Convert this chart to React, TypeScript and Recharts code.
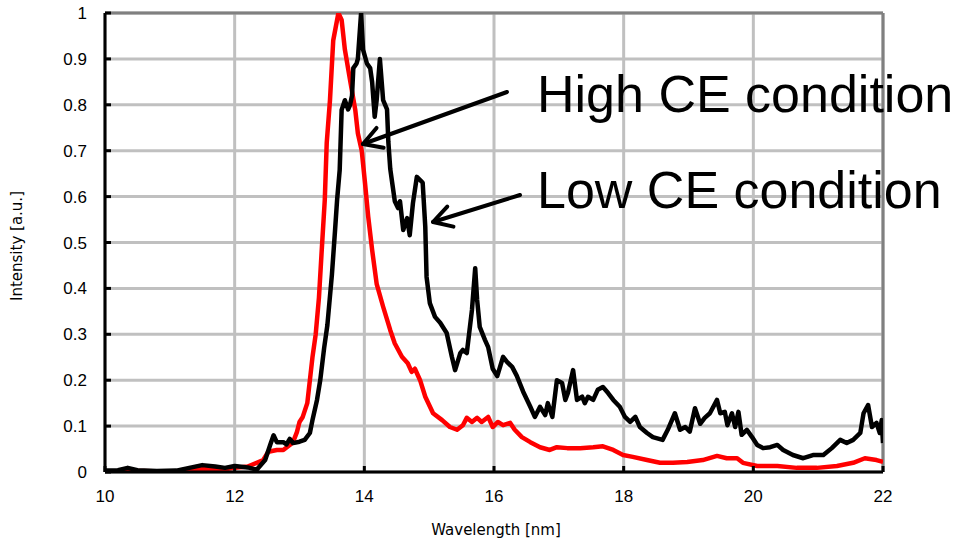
import { LineChart, Line, XAxis, YAxis, CartesianGrid, ReferenceLine } from "recharts"

// wavelength [nm] / intensity [a.u.]
const highWl = [
  10.0, 10.2, 10.35, 10.5, 10.8, 11.1, 11.3, 11.5, 11.7, 11.85, 12.0, 12.2, 12.34, 12.47, 12.55, 12.6,
  12.65, 12.75, 12.8, 12.85, 12.9, 13.0, 13.08, 13.16, 13.2, 13.27, 13.32, 13.38, 13.43, 13.5, 13.55, 13.58,
  13.62, 13.65, 13.7, 13.75, 13.78, 13.81, 13.83, 13.88, 13.9, 13.95, 13.98, 14.04, 14.09, 14.12, 14.16, 14.19,
  14.24, 14.29, 14.35, 14.37, 14.4, 14.43, 14.47, 14.52, 14.55, 14.6, 14.66, 14.7, 14.75, 14.81, 14.86, 14.9,
  14.94, 14.96, 15.01, 15.09, 15.17, 15.27, 15.35, 15.4, 15.48, 15.52, 15.58, 15.66, 15.71, 15.74, 15.78, 15.86,
  15.91, 15.98, 16.05, 16.14, 16.2, 16.28, 16.35, 16.45, 16.56, 16.63, 16.71, 16.79, 16.83, 16.9, 16.97, 17.05,
  17.1, 17.14, 17.22, 17.28, 17.36, 17.4, 17.45, 17.53, 17.6, 17.68, 17.76, 17.84, 17.94, 18.02, 18.1, 18.18,
  18.25, 18.36, 18.45, 18.6, 18.68, 18.79, 18.87, 18.95, 19.02, 19.1, 19.18, 19.25, 19.33, 19.44, 19.49, 19.56,
  19.6, 19.67, 19.72, 19.77, 19.82, 19.9, 19.98, 20.06, 20.15, 20.26, 20.37, 20.46, 20.61, 20.77, 20.92, 21.08,
  21.21, 21.34, 21.44, 21.54, 21.65, 21.7, 21.77, 21.83, 21.9, 21.95, 21.98, 22.0,
]
const highI = [
  0.003, 0.004, 0.009, 0.004, 0.002, 0.003, 0.009, 0.015, 0.012, 0.009, 0.013, 0.01, 0.005, 0.026, 0.06, 0.08,
  0.065, 0.065, 0.06, 0.072, 0.063, 0.066, 0.07, 0.085, 0.113, 0.157, 0.2, 0.27, 0.32, 0.43, 0.53, 0.593,
  0.658, 0.789, 0.81, 0.79, 0.8, 0.82, 0.88, 0.89, 0.9, 1.0, 0.92, 0.89, 0.88, 0.85, 0.774, 0.81,
  0.9, 0.81, 0.79, 0.72, 0.66, 0.63, 0.59, 0.575, 0.59, 0.527, 0.553, 0.516, 0.586, 0.643, 0.636, 0.63,
  0.534, 0.425, 0.368, 0.338, 0.325, 0.303, 0.251, 0.222, 0.259, 0.266, 0.259, 0.353, 0.444, 0.375, 0.316, 0.288,
  0.272, 0.225, 0.209, 0.251, 0.24, 0.229, 0.21, 0.175, 0.142, 0.12, 0.142, 0.124, 0.15, 0.12, 0.2, 0.194,
  0.157, 0.172, 0.222, 0.157, 0.164, 0.15, 0.164, 0.157, 0.179, 0.185, 0.172, 0.157, 0.142, 0.12, 0.109, 0.12,
  0.098, 0.085, 0.076, 0.07, 0.092, 0.128, 0.092, 0.098, 0.088, 0.139, 0.105, 0.118, 0.128, 0.157, 0.128, 0.131,
  0.102, 0.128, 0.098, 0.131, 0.081, 0.092, 0.076, 0.059, 0.052, 0.054, 0.059, 0.048, 0.037, 0.03, 0.037, 0.037,
  0.052, 0.07, 0.063, 0.07, 0.085, 0.128, 0.146, 0.098, 0.107, 0.085, 0.113, 0.063,
]

const lowWl = [
  10.0, 10.3, 10.5, 11.0, 11.3, 11.5, 11.8, 12.0, 12.2, 12.34, 12.44, 12.52, 12.65, 12.75, 12.85, 12.9,
  12.96, 13.0, 13.05, 13.12, 13.16, 13.2, 13.25, 13.3, 13.35, 13.39, 13.42, 13.47, 13.52, 13.6, 13.65, 13.7,
  13.78, 13.86, 13.9, 13.96, 14.01, 14.06, 14.12, 14.19, 14.29, 14.4, 14.47, 14.58, 14.67, 14.73, 14.78, 14.86,
  14.94, 15.06, 15.2, 15.32, 15.43, 15.52, 15.58, 15.66, 15.74, 15.81, 15.91, 15.98, 16.06, 16.14, 16.25, 16.32,
  16.43, 16.56, 16.71, 16.86, 16.97, 17.13, 17.33, 17.53, 17.68, 17.84, 17.99, 18.14, 18.36, 18.56, 18.76, 18.98,
  19.22, 19.44, 19.59, 19.75, 19.84, 20.06, 20.37, 20.67, 20.98, 21.29, 21.54, 21.72, 21.9, 22.0,
]
const lowI = [
  0.0, 0.003, 0.002, 0.001, 0.003, 0.007, 0.005, 0.009, 0.012, 0.02, 0.026, 0.044, 0.048, 0.048, 0.059, 0.065,
  0.087, 0.109, 0.12, 0.15, 0.2, 0.25, 0.3, 0.38, 0.5, 0.593, 0.717, 0.81, 0.94, 1.0, 0.985, 0.92,
  0.854, 0.789, 0.738, 0.7, 0.63, 0.556, 0.484, 0.41, 0.36, 0.309, 0.28, 0.251, 0.237, 0.218, 0.225, 0.2,
  0.164, 0.128, 0.113, 0.098, 0.092, 0.102, 0.118, 0.109, 0.118, 0.109, 0.12, 0.098, 0.109, 0.102, 0.107, 0.092,
  0.076, 0.065, 0.054, 0.048, 0.054, 0.052, 0.052, 0.054, 0.056, 0.048, 0.037, 0.033, 0.026, 0.02, 0.02, 0.022,
  0.026, 0.035, 0.03, 0.03, 0.02, 0.013, 0.013, 0.009, 0.009, 0.013, 0.02, 0.03, 0.026, 0.022,
]

const xTicks = [10, 12, 14, 16, 18, 20, 22]
const yTicks = [0, 0.1, 0.2, 0.3, 0.4, 0.5, 0.6, 0.7, 0.8, 0.9, 1]

const highData = highWl.map((x, i) => ({ x, y: highI[i] }))
const lowData = lowWl.map((x, i) => ({ x, y: lowI[i] }))

const FONT = "Liberation Sans, Arial, sans-serif"

function XTick({ x, y, payload }: any) {
  return (
    <text x={x} y={y + 13} textAnchor="middle" fontSize={17} fontFamily={FONT} fill="#000">
      {payload.value}
    </text>
  )
}

function YTick({ x, y, payload }: any) {
  return (
    <text x={x} y={y + 6} textAnchor="end" fontSize={17} fontFamily={FONT} fill="#000">
      {payload.value}
    </text>
  )
}

function Arrow({ x1, y1, x2, y2 }: { x1: number; y1: number; x2: number; y2: number }) {
  const len = Math.hypot(x1 - x2, y1 - y2)
  const ux = (x1 - x2) / len
  const uy = (y1 - y2) / len
  const head = 21
  const rot = (a: number) => [
    x2 + head * (ux * Math.cos(a) - uy * Math.sin(a)),
    y2 + head * (ux * Math.sin(a) + uy * Math.cos(a)),
  ]
  const [ax, ay] = rot(Math.PI / 6)
  const [bx, by] = rot(-Math.PI / 6)
  return (
    <g stroke="#000" strokeWidth={4} strokeLinecap="round" strokeLinejoin="round" fill="none">
      <line x1={x1} y1={y1} x2={x2} y2={y2} />
      <polyline points={`${ax},${ay} ${x2},${y2} ${bx},${by}`} />
    </g>
  )
}

export default function App() {
  return (
    <div style={{ position: "absolute", left: 0, top: 0, width: 965, height: 545, background: "#fff" }}>
      <LineChart width={965} height={545} margin={{ top: 13, right: 82, bottom: 33, left: 0 }}>
        <CartesianGrid stroke="#c0c0c0" strokeWidth={3} />
        <XAxis
          type="number"
          dataKey="x"
          domain={[10, 22]}
          ticks={xTicks}
          allowDataOverflow
          height={40}
          axisLine={{ stroke: "#000", strokeWidth: 3 }}
          tickLine={{ stroke: "#000", strokeWidth: 3 }}
          tickSize={-6}
          tickMargin={23}
          tick={<XTick />}
        />
        <YAxis
          type="number"
          dataKey="y"
          domain={[0, 1]}
          ticks={yTicks}
          allowDataOverflow
          width={105}
          axisLine={{ stroke: "#000", strokeWidth: 3 }}
          tickLine={{ stroke: "#000", strokeWidth: 3 }}
          tickSize={-6}
          tickMargin={24}
          tick={<YTick />}
        />
        <ReferenceLine y={1} stroke="#808080" strokeWidth={3} />
        <ReferenceLine x={22} stroke="#808080" strokeWidth={3} />
        <Line data={lowData} dataKey="y" stroke="#ff0000" strokeWidth={4.5} strokeLinejoin="round" dot={false} isAnimationActive={false} />
        <Line data={highData} dataKey="y" stroke="#000" strokeWidth={4.5} strokeLinejoin="round" dot={false} isAnimationActive={false} />
      </LineChart>
      <svg width={965} height={545} style={{ position: "absolute", left: 0, top: 0, pointerEvents: "none" }}>
        <text
          x={22}
          y={246}
          transform="rotate(-90 22 246)"
          textAnchor="middle"
          fontSize={15}
          fontFamily="DejaVu Sans, sans-serif"
          fill="#000"
        >
          Intensity [a.u.]
        </text>
        <text x={496} y={535} textAnchor="middle" fontSize={15} fontFamily="DejaVu Sans, sans-serif" fill="#000">
          Wavelength [nm]
        </text>
        <Arrow x1={507} y1={92} x2={363} y2={144} />
        <Arrow x1={520} y1={195} x2={433} y2={222} />
        <text x={537} y={112} fontSize={52} fontFamily={FONT} fill="#000">
          High CE condition
        </text>
        <text x={537} y={208} fontSize={52} fontFamily={FONT} fill="#000">
          Low CE condition
        </text>
      </svg>
    </div>
  )
}
